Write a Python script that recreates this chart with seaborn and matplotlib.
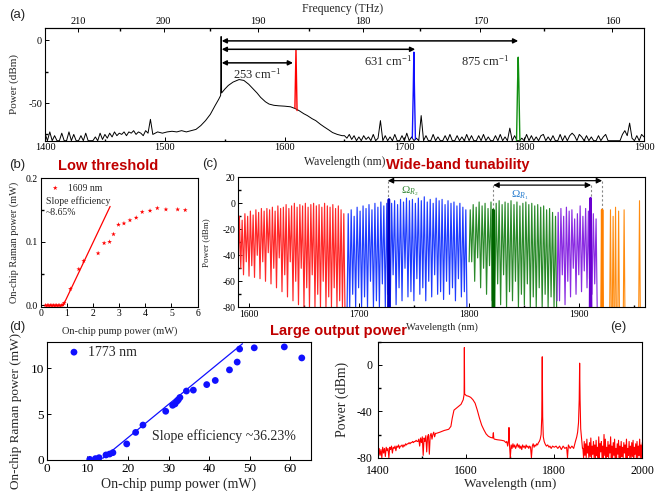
import numpy as np
import matplotlib
matplotlib.use("Agg")
import matplotlib.pyplot as plt
import seaborn as sns
from matplotlib.ticker import MultipleLocator, FixedLocator, FormatStrFormatter

C_NM_THZ = 299792.458

# ---------------- panel (a) data ----------------
a_noise1_start, a_noise1_step = 1400, 2
a_noise1_db = [-74, -80, -73, -80, -76, -80, -80, -74, -80, -80,
               -73, -80, -75, -80, -80, -76, -80, -74, -80, -80,
               -80, -77, -80, -74, -79, -75, -78, -74, -77, -73,
               -76, -74, -75, -73, -76, -73, -74, -72, -75, -73,
               -74, -76, -72, -74, -63]
a_hump = [(1490, -75), (1494, -73), (1498, -74), (1502, -73), (1506, -72.5), (1510, -73),
          (1514, -72), (1518, -73), (1522, -72), (1526, -71), (1530, -68), (1534, -64),
          (1538, -59), (1542, -52), (1545, -47), (1546.6, -44), (1547, 3), (1547.4, -42),
          (1550, -39), (1553, -36), (1557, -33.3), (1562, -31.3), (1566, -32), (1570, -35),
          (1573, -38), (1577, -42), (1580, -45.5), (1584, -49), (1587, -50.8), (1591, -51.8),
          (1595, -52.2), (1600, -52.5), (1605, -53), (1609, -54.5), (1612, -56), (1616, -58.5),
          (1619, -60), (1623, -62.5), (1626, -64), (1630, -67), (1633, -69), (1637, -71.5),
          (1640, -73.5), (1644, -75), (1648, -76)]
a_noise2_start, a_noise2_step = 1650, 2
a_noise2_db = [-76, -78, -75, -79, -76, -80, -77, -80, -76, -79,
               -77, -80, -75, -80, -78, -64, -80, -76, -80, -77,
               -80, -75, -80, -80, -76, -80, -74, -80, -77, -80,
               -78, -80, -60, -80, -76, -80, -80, -75, -80, -77,
               -80, -80, -76, -80, -75, -80, -80, -76, -80, -77,
               -80, -75, -80, -76, -80, -80, -76, -80, -75, -80,
               -77, -80, -80, -76, -80, -75, -80, -77, -80, -70,
               -80, -76, -80, -80, -78, -80, -75, -80, -76, -80,
               -77, -80, -76, -75, -80, -77, -80, -76, -80, -80,
               -75, -80, -76, -80, -76, -74, -76, -80, -75, -77,
               -80, -76, -80, -77, -80, -80, -76, -80, -77, -75,
               -80, -80, -80, -80, -80, -80, -75, -72, -76, -66,
               -78, -80, -76, -80, -75, -77]
a_stokes = {
    "red": ([1608.6, 1609.5, 1610.4], [-54, -7.5, -56], "#ff0000"),
    "blue": ([1706.6, 1707.4, 1707.9, 1708.4, 1709.2], [-78, -40, -9.5, -40, -79], "#1010ff"),
    "green": ([1793.6, 1794.5, 1795, 1795.5, 1796.4], [-80, -33, -13.5, -33, -80], "#109010"),
}
a_arrow_start_wl = 1547.5
a_arrow_end_wl = [1607, 1709, 1795]
a_arrow_level_db = [-18, -7.2, -0.5]
a_shift_labels = ["253 cm$^{-1}$", "631 cm$^{-1}$", "875 cm$^{-1}$"]
a_label_wl = [1577, 1686, 1767]
a_label_db = [-27, -16.5, -16.5]
a_freq_ticks = [160, 170, 180, 190, 200, 210]
a_freq_minor = [155, 165, 175, 185, 195, 205, 215]

# ---------------- panel (b) data ----------------
b_pump_mw = [0.18, 0.24, 0.30, 0.36, 0.42, 0.48, 0.54, 0.60, 0.66, 0.72, 0.78, 0.84, 0.89,
             1.13, 1.45, 1.64, 2.19, 2.42, 2.63, 2.78, 2.97, 3.18, 3.41, 3.65, 3.88, 4.18,
             4.46, 4.79, 5.24, 5.53]
b_raman_mw = [0.0, 0.0, 0.0, 0.0, 0.0, 0.0, 0.0, 0.0, 0.0, 0.0, 0.0, 0.001, 0.004,
              0.026, 0.057, 0.070, 0.082, 0.098, 0.100, 0.112, 0.127, 0.129, 0.134, 0.138,
              0.147, 0.149, 0.153, 0.151, 0.151, 0.150]
b_fit_x = [0.85, 2.65]
b_slope, b_threshold = 0.0865, 0.85

# ---------------- panel (c) data ----------------
c_red_pk_wl = [1591, 1593.5, 1596, 1598.5, 1601, 1603.5, 1606, 1608.5, 1611, 1613.5, 1616,
               1618.5, 1621, 1623.5, 1626, 1628.5, 1631, 1633.5, 1636, 1638.5, 1641, 1643.5,
               1646, 1648.5, 1651, 1653.5, 1656, 1658.5, 1661, 1663.5, 1666, 1668.5, 1671,
               1673.5, 1676, 1678.5, 1681, 1683.5, 1686]
c_red_pk_db = [-10, -13, -8, -10, -6, -9, -5, -7, -4, -6, -4, -5, -3, -6, -2, -4, -3, -1, -4,
               -2, 0, -3, -1, -2, 0, -3, -1, 0, -2, -1, -3, 0, -2, -3, -1, -4, -2, -5, -8]
c_red_vl_db = [-50, -55, -45, -56, -48, -57, -40, -58, -45, -60, -38, -62, -50, -65, -42, -68,
               -55, -72, -45, -75, -60, -78, -50, -80, -65, -80, -55, -80, -70, -80, -60, -80,
               -72, -80, -65, -80, -75, -80]
c_blue_pk_wl = [1690, 1692.7, 1695.4, 1698.1, 1700.8, 1703.5, 1706.2, 1708.9, 1711.6, 1714.3,
                1717, 1719.7, 1722.4, 1725.1, 1727, 1729.5, 1732.2, 1734.9, 1737.6, 1740.3,
                1743, 1745.7, 1748.4, 1751.1, 1753.8, 1756.5, 1759.2, 1761.9, 1764.6, 1767.3,
                1770, 1772.7, 1775.4, 1778.1, 1780.8, 1783.5, 1786.2, 1788.9, 1791.6, 1794.3,
                1797]
c_blue_pk_db = [-8, -5, -10, -3, -6, -2, -4, -1, -5, 0, -3, 1, -2, 0, 3, 0, 2, -1, 3, 1, 4,
                2, 3, 0, 4, 2, 5, 1, 3, 0, 4, 2, 3, -1, 2, 0, 1, -2, 0, -3, -5]
c_blue_vl_db = [-80, -70, -80, -65, -80, -72, -80, -60, -80, -75, -80, -62, -80, -70, -80,
                -55, -78, -65, -75, -50, -72, -68, -75, -58, -70, -65, -75, -60, -72, -55,
                -70, -68, -74, -60, -70, -65, -75, -58, -72, -68]
c_green_pk_wl = [1801, 1803.7, 1806.4, 1809.1, 1811.8, 1814.5, 1817.2, 1819.9, 1822, 1824.6,
                 1827.3, 1830, 1832.7, 1835.4, 1838.1, 1840.8, 1843.5, 1846.2, 1848.9, 1851.6,
                 1854.3, 1857, 1859.7, 1862.4, 1865.1, 1867.8, 1870.5, 1873.2, 1875.9, 1878.6]
c_green_pk_db = [-5, -1, -3, 1, -2, 0, -4, 1, -5, 0, 2, -1, 1, 0, 2, -1, 1, -2, 0, 1, -1, 0,
                 -2, -1, -3, -2, -5, -4, -7, -10]
c_green_vl_db = [-45, -60, -42, -65, -50, -70, -48, -75, -80, -62, -78, -55, -80, -68, -75,
                 -60, -80, -70, -78, -62, -80, -72, -80, -65, -80, -70, -80, -72, -80]
c_purple_pk_wl = [1881, 1883.5, 1886, 1888.5, 1891, 1893.5, 1896, 1898.5, 1901, 1903.5, 1906,
                  1908.5, 1910.5, 1913, 1915.5]
c_purple_pk_db = [-7, -4, -10, -3, -6, -5, -12, -8, -2, -10, -4, -6, 4, -8, -12]
c_purple_vl_db = [-75, -55, -78, -60, -72, -50, -70, -55, -68, -52, -65, -58, -70, -62]
c_orange_pk_wl = [1921, 1928.6, 1931, 1933.2, 1936, 1941, 1955]
c_orange_pk_db = [-5, -5, -10, -3, -6, -5, 2]
c_strong_wl = [1727, 1822, 1910.5, 1921]
c_strong_db = [3, -5, 4, -5]
c_guide_wl = [1726, 1822, 1911, 1921]
c_guide_top = [17.4, 14, 14, 17.4]
c_guide_bottom = [3, -4, 5, -4]
c_spans = [(1726, 1921, 17.4), (1822, 1911, 14.0)]

# ---------------- panel (d) data ----------------
d_pump_mw = [10.6, 12.0, 12.9, 14.6, 15.5, 16.3, 19.7, 21.9, 23.7, 29.3, 31.0, 31.6, 32.1,
             32.4, 32.8, 34.4, 36.1, 39.4, 41.5, 45.0, 46.9, 47.5, 51.1, 58.5, 62.8]
d_raman_mw = [0.07, 0.15, 0.25, 0.55, 0.65, 0.8, 1.75, 3.0, 3.8, 5.3, 5.95, 6.1, 6.4, 6.55,
              6.8, 7.5, 7.6, 8.2, 8.65, 9.8, 10.65, 12.07, 12.2, 12.3, 11.1]
d_fit_x = [13.8, 48.2]
d_slope, d_threshold = 0.3623, 13.3

# ---------------- panel (e) data ----------------
e_noise1_start, e_noise1_step = 1400, 2
e_noise1_db = [-80, -72, -78, -73, -80, -71, -76, -72, -79, -71, -74, -72, -80, -71, -73, -70,
               -76, -71, -72, -70, -74, -70, -71, -69, -72, -70, -70, -69, -71, -69, -70, -68,
               -69, -68, -68, -67, -68, -67, -67, -66, -67, -66, -66, -65, -66, -66, -64, -70,
               -63, -67, -62, -78, -63, -66, -61, -75, -62, -60, -77, -61, -59, -64, -60, -58,
               -62, -59]
e_mid = [(1532, -59), (1540, -58), (1550, -56.5), (1560, -55.5), (1565, -53), (1568, -46),
         (1572, -39), (1580, -36.5), (1588, -34), (1593, -30), (1595, -25.5), (1595.6, 15),
         (1596.2, -25), (1600, -26.5), (1605, -27), (1610, -28), (1615, -30), (1620, -33),
         (1625, -39), (1630, -46), (1635, -52), (1640, -56), (1645, -59.5), (1650, -61.5),
         (1655, -62.5), (1660, -63), (1661.5, -58.5), (1662.5, -63.5), (1664, -64),
         (1670, -64.5), (1680, -65), (1686, -65.5), (1690, -67), (1692, -66), (1694, -70),
         (1696, -65), (1697, -54), (1698, -68), (1700, -80), (1702, -69), (1704, -72),
         (1706, -68), (1708, -71), (1710, -69), (1712, -72), (1714, -70), (1716, -68),
         (1718, -71), (1720, -69), (1722, -72), (1724, -70), (1726, -73), (1728, -69),
         (1730, -71), (1732, -70), (1734, -72), (1736, -69), (1738, -71), (1740, -70),
         (1742, -72), (1744, -70), (1746, -71), (1748, -80), (1750, -70), (1752, -68),
         (1754, -71), (1756, -69), (1758, -70), (1760, -68), (1762, -69), (1764, -67),
         (1766, -66), (1768, -64), (1770, -60), (1771.5, -45), (1772.6, 7), (1773.6, -45),
         (1775, -62), (1777, -66), (1779, -68), (1782, -70), (1785, -69), (1788, -71),
         (1790, -70), (1793, -72), (1796, -70), (1800, -71), (1804, -70), (1808, -72),
         (1812, -70), (1816, -73), (1820, -70), (1824, -72), (1828, -71), (1830, -80),
         (1832, -69), (1836, -72), (1840, -70), (1844, -72), (1848, -66), (1851, -62),
         (1853, -58), (1855, -50), (1856.6, -30), (1857.6, 1.5), (1858.6, -30), (1860, -55),
         (1862, -64), (1864, -72)]
e_noise2_start, e_noise2_step = 1865, 1.5
e_noise2_db = [-72, -80, -66, -78, -68, -80, -64, -76, -70, -80, -67, -79, -63, -80, -70, -77,
               -66, -80, -69, -80, -65, -78, -71, -80, -62, -80, -68, -75, -66, -80, -70, -80,
               -60, -78, -64, -80, -71, -79, -66, -80, -69, -76, -62, -80, -70, -80, -67, -78,
               -64, -80, -72, -80, -68, -77, -65, -80, -70, -80, -66, -79, -71, -80, -67, -76,
               -69, -80, -64, -80, -72, -78, -66, -80, -70, -80, -67, -79, -65, -80, -71, -77,
               -68, -80, -66, -80, -70, -78, -64, -80, -69, -80, -67]

# ---------------- styling ----------------
sns.set_theme(style="ticks")
plt.rcParams.update({
    "font.family": ["Liberation Serif", "DejaVu Serif"],
    "mathtext.fontset": "custom",
    "mathtext.rm": "Liberation Serif",
    "mathtext.it": "Liberation Serif:italic",
    "mathtext.bf": "Liberation Serif:bold",
    "axes.unicode_minus": False,
    "xtick.direction": "in",
    "ytick.direction": "in",
    "axes.linewidth": 0.8,
    "axes.edgecolor": "black",
    "xtick.color": "black",
    "ytick.color": "black",
    "xtick.major.size": 3,
    "ytick.major.size": 3,
    "xtick.minor.size": 1.8,
    "ytick.minor.size": 1.8,
    "xtick.major.width": 0.7,
    "ytick.major.width": 0.7,
    "xtick.major.pad": 2,
    "ytick.major.pad": 2,
})
TITLE_RED = "#c00000"
SANS = ["Liberation Sans", "DejaVu Sans"]


def line(ax, x, y, color, lw, zorder=2):
    sns.lineplot(x=np.asarray(x, float), y=np.asarray(y, float), ax=ax, color=color,
                 linewidth=lw, sort=False, estimator=None, errorbar=None, legend=False,
                 zorder=zorder)


def grid(start, step, vals):
    return start + step * np.arange(len(vals))


def comb(pk_wl, pk_db, vl_db):
    xs, ys = [pk_wl[0] - 1.0], [vl_db[0]]
    for i, (w, d) in enumerate(zip(pk_wl, pk_db)):
        xs.append(w)
        ys.append(d)
        if i + 1 < len(pk_wl):
            xs.append(0.5 * (w + pk_wl[i + 1]))
            ys.append(vl_db[i])
    xs.append(pk_wl[-1] + 1.0)
    ys.append(-80)
    return xs, ys


fig = plt.figure(figsize=(6.6, 4.91), dpi=100)
W, H = 660.0, 491.0


def add_axes(l, r, t, b):
    return fig.add_axes([l / W, 1 - b / H, (r - l) / W, (b - t) / H])


# ---------------- (a) ----------------
axa = add_axes(45, 644, 27.7, 140.7)
wl1 = grid(a_noise1_start, a_noise1_step, a_noise1_db)
wl2 = grid(a_noise2_start, a_noise2_step, a_noise2_db)
a_wl = np.concatenate([wl1, [p[0] for p in a_hump], wl2])
a_db = np.concatenate([a_noise1_db, [p[1] for p in a_hump], a_noise2_db])
line(axa, a_wl, a_db, "black", 0.7)
for key, (sw, sd, col) in a_stokes.items():
    line(axa, sw, sd, col, 1.0, zorder=3)
for end, lev in zip(a_arrow_end_wl, a_arrow_level_db):
    axa.annotate("", xy=(end, lev), xytext=(a_arrow_start_wl, lev),
                 arrowprops=dict(arrowstyle="<|-|>", color="black", lw=1.1,
                                 mutation_scale=7, shrinkA=0, shrinkB=0))
for lab, x, y in zip(a_shift_labels, a_label_wl, a_label_db):
    axa.text(x, y, lab, fontsize=9, ha="center", va="center")
axa.set_xlim(1400, 1900)
axa.set_ylim(-80, 10)
axa.set_xticks([1400, 1500, 1600, 1700, 1800, 1900])
axa.xaxis.set_minor_locator(MultipleLocator(50))
axa.set_yticks([0, -50])
axa.yaxis.set_minor_locator(FixedLocator([-25, -75]))
axa.tick_params(labelsize=7.5)
axa.set_xlabel("Wavelength (nm)", fontsize=8.5)
axa.xaxis.set_label_coords(0.5, -0.135)
axa.set_ylabel("Power (dBm)", fontsize=8)
axa.yaxis.set_label_coords(-0.043, 0.5)


def wl2f(x):
    x = np.asarray(x, float)
    with np.errstate(divide="ignore"):
        return np.where(x != 0, C_NM_THZ / np.where(x != 0, x, 1), np.inf)


sec = axa.secondary_xaxis("top", functions=(wl2f, wl2f))
sec.set_xticks(a_freq_ticks)
sec.xaxis.set_minor_locator(FixedLocator(a_freq_minor))
sec.tick_params(axis="x", direction="in", labelsize=7.5, pad=1)
sec.spines["top"].set_linewidth(0.8)
fig.text(343 / W, 1 - 9 / H, "Frequency (THz)", fontsize=8.5, ha="center", va="center")

# ---------------- (b) ----------------
axb = add_axes(41, 197.5, 178.3, 306.7)
fit_bx = np.asarray(b_fit_x)
line(axb, fit_bx, b_slope * (fit_bx - b_threshold), "#ff0000", 0.9)
sns.scatterplot(x=b_pump_mw, y=b_raman_mw, ax=axb, color="#ff0000", marker="*", s=13,
                edgecolor="none", label="1609 nm", zorder=3)
axb.legend(loc="center left", bbox_to_anchor=(0.06, 0.924), frameon=False, fontsize=7,
           handlelength=1.0, handletextpad=0.8, borderpad=0, borderaxespad=0)
axb.text(0.03, 0.78, "Slope efficiency\n~8.65%", transform=axb.transAxes, fontsize=7,
         ha="left", va="center", linespacing=1.3)
axb.set_xlim(0, 6)
axb.set_ylim(-0.002, 0.2)
axb.set_xticks(range(7))
axb.set_yticks([0.0, 0.1, 0.2])
axb.yaxis.set_major_formatter(FormatStrFormatter("%.1f"))
axb.yaxis.set_minor_locator(MultipleLocator(0.05))
axb.tick_params(labelsize=7)
axb.set_xlabel("On-chip pump power (mW)", fontsize=7.5)
axb.xaxis.set_label_coords(0.5, -0.15)
axb.set_ylabel("On-chip Raman power (mW)", fontsize=7.5)
axb.yaxis.set_label_coords(-0.14, 0.5)

# ---------------- (c) ----------------
axc = add_axes(238.3, 645, 177.3, 307.3)
groups = [
    (c_red_pk_wl, c_red_pk_db, c_red_vl_db, "#ff2828"),
    (c_blue_pk_wl, c_blue_pk_db, c_blue_vl_db, "#1e3cff"),
    (c_green_pk_wl, c_green_pk_db, c_green_vl_db, "#2a8a2a"),
    (c_purple_pk_wl, c_purple_pk_db, c_purple_vl_db, "#8a2be2"),
]
for pw, pd_, vd, col in groups:
    xs, ys = comb(pw, pd_, vd)
    line(axc, xs, ys, col, 0.85)
for w, d in zip(c_orange_pk_wl, c_orange_pk_db):
    line(axc, [w - 0.7, w, w + 0.7], [-80, d, -80], "#ff8c10", 0.8)
strong_cols = ["#0000c0", "#006400", "#6a00d0", "#ff8000"]
for w, d, col in zip(c_strong_wl, c_strong_db, strong_cols):
    line(axc, [w - 0.5, w, w + 0.5], [-80, d, -80], col, 1.8, zorder=3)
for w, t, b in zip(c_guide_wl, c_guide_top, c_guide_bottom):
    line(axc, [w, w], [t, b], "#888888", 0.8)
    axc.lines[-1].set_linestyle((0, (2, 2)))
for s, e, lev in c_spans:
    axc.annotate("", xy=(e, lev), xytext=(s, lev),
                 arrowprops=dict(arrowstyle="<|-|>", color="black", lw=0.9,
                                 mutation_scale=8, shrinkA=0, shrinkB=0))
axc.text(1746, 9, r"$\mathit{\Omega}_{R_2}$", color="#3a8a3a", fontsize=8, ha="center",
         va="center")
axc.text(1846, 6, r"$\mathit{\Omega}_{R_1}$", color="#2a7fd0", fontsize=8, ha="center",
         va="center")
axc.set_xlim(1590, 1960)
axc.set_ylim(-80, 20)
axc.set_xticks([1600, 1700, 1800, 1900])
axc.xaxis.set_minor_locator(MultipleLocator(50))
axc.set_yticks([-80, -60, -40, -20, 0, 20])
axc.yaxis.set_minor_locator(MultipleLocator(10))
axc.tick_params(labelsize=7)
axc.set_xlabel("Wavelength (nm)", fontsize=7.5)
axc.xaxis.set_label_coords(0.5, -0.115)
axc.set_ylabel("Power (dBm)", fontsize=6.5)
axc.yaxis.set_label_coords(-0.07, 0.5)

# ---------------- (d) ----------------
axd = add_axes(46.7, 310.7, 342.3, 460)
fit_dx = np.asarray(d_fit_x)
line(axd, fit_dx, d_slope * (fit_dx - d_threshold), "#1010ff", 0.9)
sns.scatterplot(x=d_pump_mw, y=d_raman_mw, ax=axd, color="#1010ff", marker="o", s=24,
                edgecolor="none", label="1773 nm", zorder=3)
axd.legend(loc="center left", bbox_to_anchor=(0.077, 0.915), frameon=False, fontsize=10,
           handlelength=1.0, handletextpad=0.5, borderpad=0, borderaxespad=0)
axd.text(0.40, 0.205, "Slope efficiency ~36.23%", transform=axd.transAxes, fontsize=10,
         ha="left", va="center")
axd.set_xlim(0, 65)
axd.set_ylim(0, 12.8)
axd.set_xticks(range(0, 61, 10))
axd.set_yticks([0, 5, 10])
axd.tick_params(labelsize=9.5)
axd.set_xlabel("On-chip pump power (mW)", fontsize=10)
axd.xaxis.set_label_coords(0.5, -0.15)
axd.set_ylabel("On-chip Raman power (mW)", fontsize=9.5)
axd.yaxis.set_label_coords(-0.095, 0.42)

# ---------------- (e) ----------------
axe = add_axes(378.3, 642.3, 341.7, 457.7)
ew1 = grid(e_noise1_start, e_noise1_step, e_noise1_db)
ew2 = grid(e_noise2_start, e_noise2_step, e_noise2_db)
e_wl = np.concatenate([ew1, [p[0] for p in e_mid], ew2])
e_db = np.concatenate([e_noise1_db, [p[1] for p in e_mid], e_noise2_db])
line(axe, e_wl, e_db, "#ff0000", 0.8)
axe.set_xlim(1400, 2000)
axe.set_ylim(-80, 20)
axe.set_xticks([1400, 1600, 1800, 2000])
axe.xaxis.set_minor_locator(MultipleLocator(100))
axe.set_yticks([-80, -40, 0])
axe.yaxis.set_minor_locator(MultipleLocator(20))
axe.tick_params(labelsize=8.5)
axe.tick_params(axis="x", pad=5)
axe.tick_params(axis="y", pad=4)
axe.set_xlabel("Wavelength (nm)", fontsize=9.5)
axe.xaxis.set_label_coords(0.5, -0.175)
axe.set_ylabel("Power (dBm)", fontsize=10)
axe.yaxis.set_label_coords(-0.11, 0.5)

# ---------------- labels and titles ----------------
for lab, x, y in [("(a)", 17, 15), ("(b)", 17, 165), ("(c)", 210, 164), ("(d)", 17, 327),
                  ("(e)", 618, 327)]:
    fig.text(x / W, 1 - y / H, lab, fontsize=9.5, family=SANS, ha="center", va="center")
for lab, x, y in [("Low threshold", 108, 166.5), ("Wide-band tunability", 458, 165),
                  ("Large output power", 339, 331)]:
    fig.text(x / W, 1 - y / H, lab, fontsize=10.5, family=SANS, weight="bold",
             color=TITLE_RED, ha="center", va="center")

fig.savefig("out.png", dpi=100)
